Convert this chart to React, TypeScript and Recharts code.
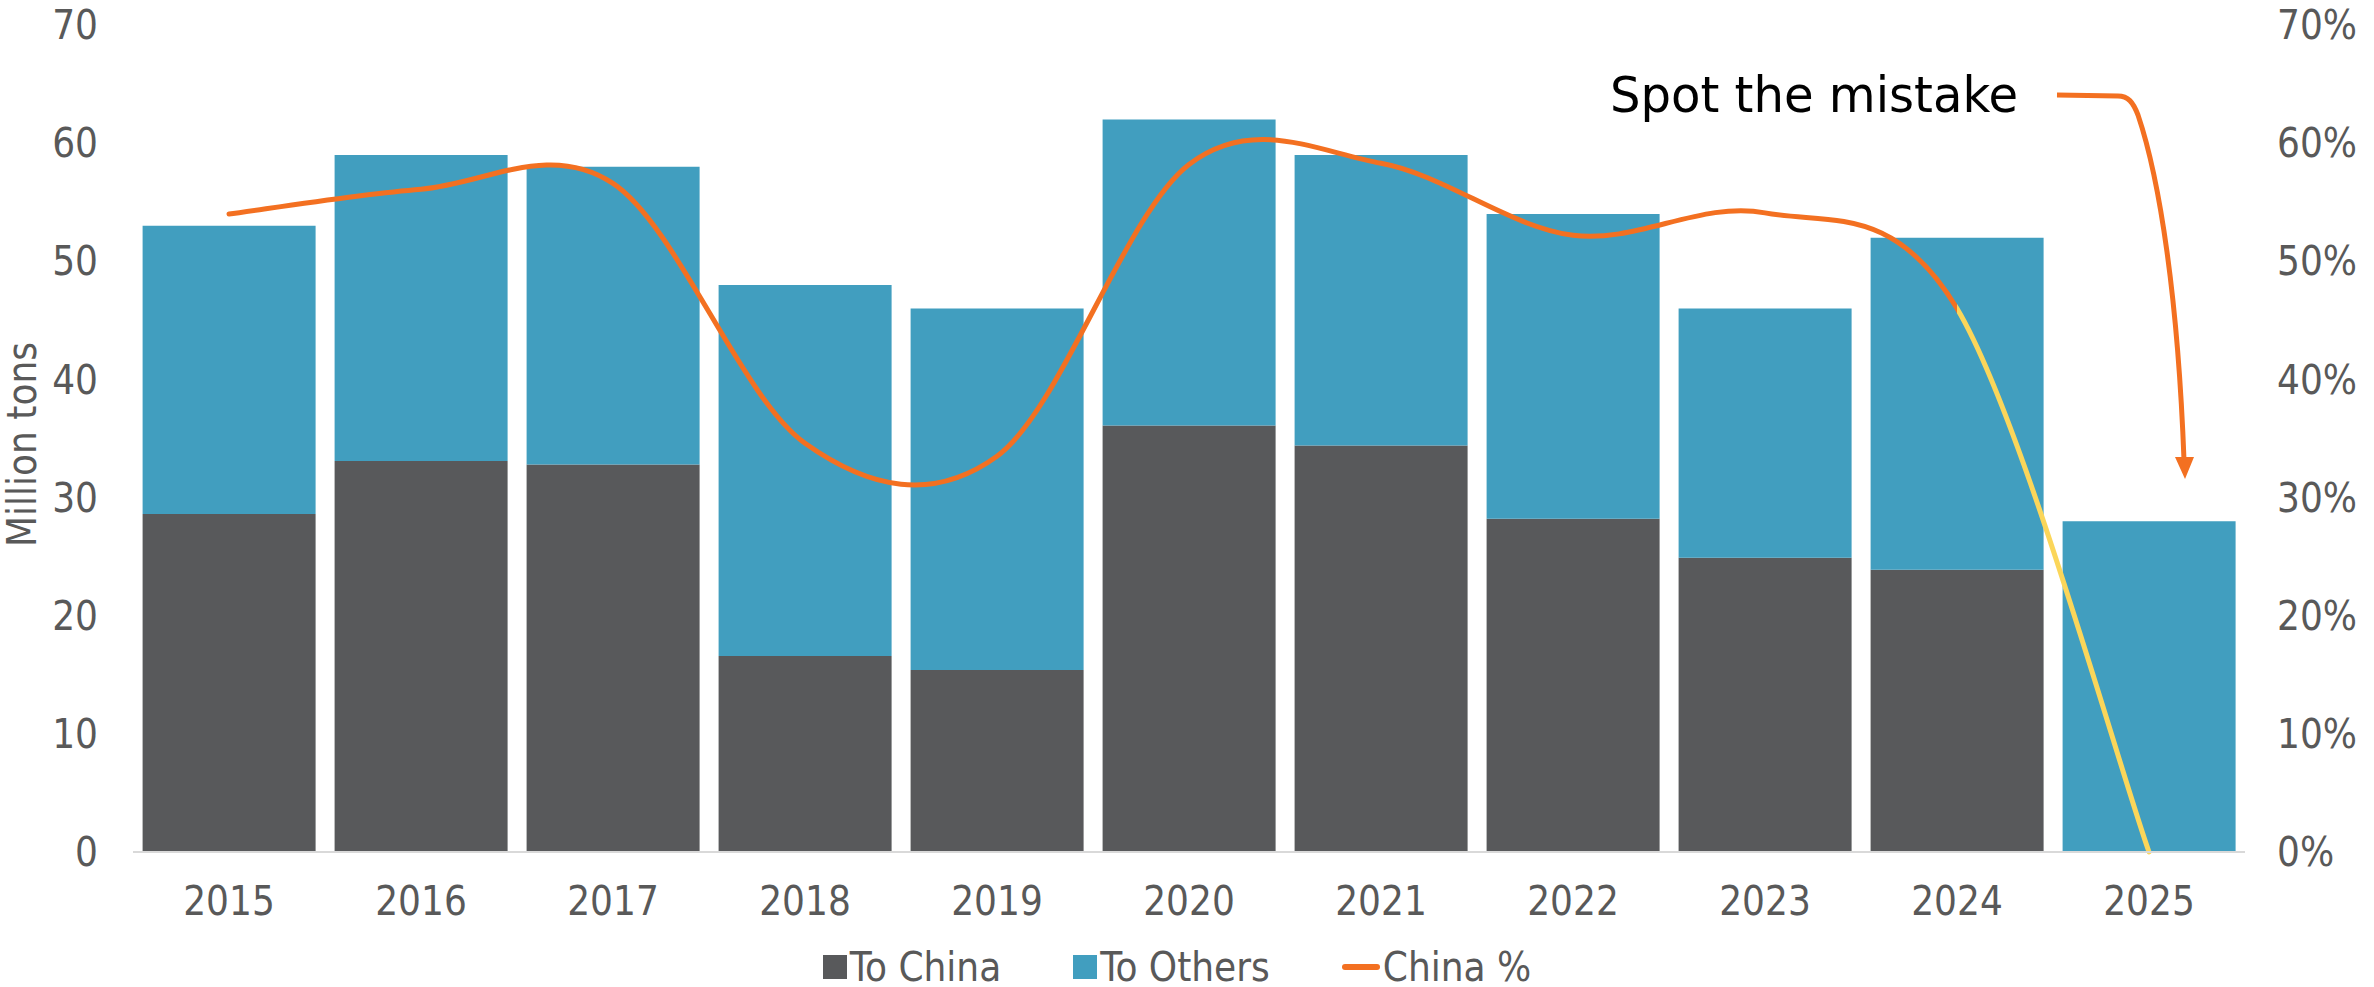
import React from "react"
import {
  ComposedChart,
  Bar,
  Line,
  XAxis,
  YAxis,
} from "recharts"

const years = ["2015", "2016", "2017", "2018", "2019", "2020", "2021", "2022", "2023", "2024", "2025"]
const toChina = [28.6, 33.1, 32.8, 16.6, 15.4, 36.1, 34.4, 28.2, 24.9, 23.9, 0]
const toOthers = [24.4, 25.9, 25.2, 31.4, 30.6, 25.9, 24.6, 25.8, 21.1, 28.1, 28]
/* China share, % */
const chinaShare = [54.0, 56.1, 56.6, 34.6, 33.5, 58.2, 58.3, 52.2, 54.1, 46.0, 0]

const leftTicks = [0, 10, 20, 30, 40, 50, 60, 70]
const rightTicks = [0, 10, 20, 30, 40, 50, 60, 70]

const GREY = "#58595B"
const TEAL = "#419EBF"
const ORANGE = "#F37021"
const YELLOW = "#FBD65A"
const TEXT = "#595959"
const FONT = "'DejaVu Sans Condensed', 'DejaVu Sans', sans-serif"
const FS = 40

const data = years.map((y, i) => ({
  year: y,
  china: toChina[i],
  others: toOthers[i],
  share: chinaShare[i],
}))

/* Excel-style smoothing: Catmull-Rom through every point */
function excelSmooth(context: any) {
  let pts: [number, number][] = []
  return {
    areaStart() {},
    areaEnd() {},
    lineStart() {
      pts = []
    },
    lineEnd() {
      const n = pts.length
      if (!n) return
      context.moveTo(pts[0][0], pts[0][1])
      for (let i = 0; i < n - 1; i++) {
        const p0 = pts[i - 1] ?? pts[i]
        const p1 = pts[i]
        const p2 = pts[i + 1]
        const p3 = pts[i + 2] ?? pts[i + 1]
        context.bezierCurveTo(
          p1[0] + (p2[0] - p0[0]) / 6,
          p1[1] + (p2[1] - p0[1]) / 6,
          p2[0] - (p3[0] - p1[0]) / 6,
          p2[1] - (p3[1] - p1[1]) / 6,
          p2[0],
          p2[1]
        )
      }
    },
    point(x: number, y: number) {
      pts.push([+x, +y])
    },
  }
}

const tickStyle = { fill: TEXT, fontSize: FS, fontFamily: FONT }

function YLabel({ viewBox }: any) {
  const cy = viewBox.y + viewBox.height / 2 + 6
  return (
    <text
      x={22}
      y={cy}
      transform={`rotate(-90 22 ${cy})`}
      textAnchor="middle"
      dominantBaseline="central"
      fill={TEXT}
      fontSize={FS}
      fontFamily={FONT}
    >
      Million tons
    </text>
  )
}

function LegendRow() {
  const item = { display: "flex", alignItems: "center", marginRight: 72 }
  return (
    <div
      style={{
        position: "absolute",
        left: 0,
        top: 944,
        width: 2374,
        display: "flex",
        justifyContent: "center",
        fontFamily: FONT,
        fontSize: FS,
        color: TEXT,
        paddingRight: 20,
        boxSizing: "border-box",
      }}
    >
      <div style={item}>
        <span style={{ width: 24, height: 24, background: GREY, marginRight: 3 }} />
        <span>To China</span>
      </div>
      <div style={item}>
        <span style={{ width: 24, height: 24, background: TEAL, marginRight: 3 }} />
        <span>To Others</span>
      </div>
      <div style={{ ...item, marginRight: 0 }}>
        <span style={{ width: 38, height: 6, borderRadius: 3, background: ORANGE, marginRight: 3 }} />
        <span>China %</span>
      </div>
    </div>
  )
}

function Annotation() {
  return (
    <svg
      width={2374}
      height={987}
      style={{ position: "absolute", left: 0, top: 0, pointerEvents: "none" }}
    >
      <text
        x={1610}
        y={112}
        fontSize={50}
        fontFamily={FONT}
        fill="#000"
        textLength={408}
        lengthAdjust="spacingAndGlyphs"
      >
        Spot the mistake
      </text>
      <path
        d="M2057 95 L2118 96 C2128 96 2133 102 2138 115 C2160 180 2178 300 2184 460"
        fill="none"
        stroke={ORANGE}
        strokeWidth={5}
      />
      <polygon points="2175,457 2194,457 2185,479" fill={ORANGE} />
    </svg>
  )
}

export default function App() {
  return (
    <div style={{ position: "absolute", left: 0, top: 0, width: 2374, height: 987, background: "#fff" }}>
      <ComposedChart
        width={2374}
        height={987}
        data={data}
        margin={{ top: 25, right: 0, bottom: 75, left: 0 }}
        barCategoryGap="5%"
      >
        <defs>
          <linearGradient id="shareGrad" x1="0" y1="0" x2="1" y2="0">
            <stop offset="0.9" stopColor={ORANGE} />
            <stop offset="0.9" stopColor={YELLOW} />
          </linearGradient>
        </defs>
        <XAxis
          dataKey="year"
          height={60}
          tickLine={false}
          tickSize={0}
          tickMargin={35}
          axisLine={{ stroke: "#D9D9D9", strokeWidth: 2 }}
          tick={tickStyle}
        />
        <YAxis
          yAxisId="left"
          width={133}
          domain={[0, 70]}
          ticks={leftTicks}
          tickLine={false}
          tickSize={0}
          tickMargin={35}
          axisLine={false}
          tick={tickStyle}
          label={<YLabel />}
        />
        <YAxis
          yAxisId="right"
          orientation="right"
          width={129}
          domain={[0, 70]}
          ticks={rightTicks}
          tickFormatter={(v: number) => `${v}%`}
          tickLine={false}
          tickSize={0}
          tickMargin={32}
          axisLine={false}
          tick={tickStyle}
        />
        <Bar yAxisId="left" dataKey="china" stackId="a" fill={GREY} isAnimationActive={false} />
        <Bar yAxisId="left" dataKey="others" stackId="a" fill={TEAL} isAnimationActive={false} />
        <Line
          yAxisId="right"
          dataKey="share"
          type={excelSmooth as any}
          stroke="url(#shareGrad)"
          strokeWidth={5}
          strokeLinecap="round"
          dot={false}
          activeDot={false}
          isAnimationActive={false}
        />
      </ComposedChart>
      <LegendRow />
      <Annotation />
    </div>
  )
}
